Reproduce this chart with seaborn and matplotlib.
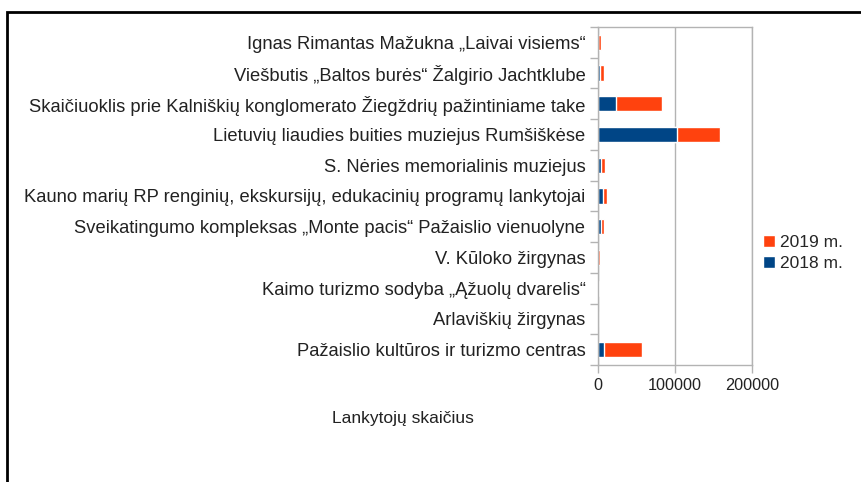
import pandas as pd
import numpy as np
import matplotlib.pyplot as plt
import seaborn as sns
from matplotlib.patches import Rectangle

# Visitor counts per site
categories = [
    'Ignas Rimantas Mažukna „Laivai visiems“',
    'Viešbutis „Baltos burės“ Žalgirio Jachtklube',
    'Skaičiuoklis prie Kalniškių konglomerato Žiegždrių pažintiniame take',
    'Lietuvių liaudies buities muziejus Rumšiškėse',
    'S. Nėries memorialinis muziejus',
    'Kauno marių RP renginių, ekskursijų, edukacinių programų lankytojai',
    'Sveikatingumo kompleksas „Monte pacis“ Pažaislio vienuolyne',
    'V. Kūloko žirgynas',
    'Kaimo turizmo sodyba „Ąžuolų dvarelis“',
    'Arlaviškių žirgynas',
    'Pažaislio kultūros ir turizmo centras',
]
visitors_2018 = [0, 3000, 23000, 102000, 4300, 6500, 3900, 0, 300, 200, 7800]
visitors_2019 = [3600, 5200, 60500, 56000, 5200, 5500, 3300, 2200, 800, 400, 49200]
x_ticks = [0, 100000, 200000]

df = pd.DataFrame({'site': categories,
                   'y2018': visitors_2018,
                   'y2019': visitors_2019})
df['total'] = df['y2018'] + df['y2019']

sns.set_style('white')
plt.rcParams['font.family'] = ['Liberation Sans', 'DejaVu Sans']

fig = plt.figure(figsize=(8.62, 4.82), dpi=100)
ax = fig.add_axes([598 / 862, 1 - 365 / 482, (752 - 598) / 862, (365 - 27) / 482])

red = '#ff420e'
blue = '#004586'
grey = '#b3b3b3'
txt = '#222222'

# stacked bars: total in red, 2018 part in blue on top
sns.barplot(data=df, x='total', y='site', color=red, width=0.5,
            saturation=1, ax=ax, label='2019 m.', orient='h')
sns.barplot(data=df, x='y2018', y='site', color=blue, width=0.5,
            saturation=1, ax=ax, label='2018 m.', orient='h')
handles, labels = ax.get_legend_handles_labels()
if ax.get_legend() is not None:
    ax.get_legend().remove()

ax.set_xlim(0, 200000)
ax.set_ylim(len(categories) - 0.5, -0.5)
ax.set_xticks(x_ticks)
ax.set_xticklabels([str(v) for v in x_ticks], fontsize=11.7, color=txt)
ax.tick_params(axis='y', which='major', length=0, labelsize=13.2,
               labelcolor=txt, pad=9)
ax.set_yticks(np.arange(-0.5, len(categories)), minor=True)
ax.tick_params(axis='y', which='minor', left=True, length=6, color=grey, width=1)
ax.tick_params(axis='x', bottom=True, length=6, color=grey, width=1, pad=3)
ax.set_xlabel('')
ax.set_ylabel('')

ax.grid(axis='x', color=grey, linewidth=1)
ax.set_axisbelow(True)
for s in ax.spines.values():
    s.set_visible(True)
    s.set_color(grey)
    s.set_linewidth(1)

fig.legend(handles, labels, loc='center left', bbox_to_anchor=(747 / 862, 1 - 253 / 482),
           frameon=False, fontsize=12.5, handlelength=0.7, handleheight=0.7,
           handletextpad=0.3, labelspacing=0.3)

fig.text(403 / 862, 1 - 418 / 482, 'Lankytojų skaičius', ha='center', va='center',
         fontsize=12.5, color=txt)

# page frame visible at top and left
fig.patches.append(Rectangle((7.5 / 862, -0.1), 1.2, 1 - 11.5 / 482 + 0.1,
                             transform=fig.transFigure, fill=False,
                             edgecolor='black', linewidth=2))

fig.savefig('out.png', dpi=100)
